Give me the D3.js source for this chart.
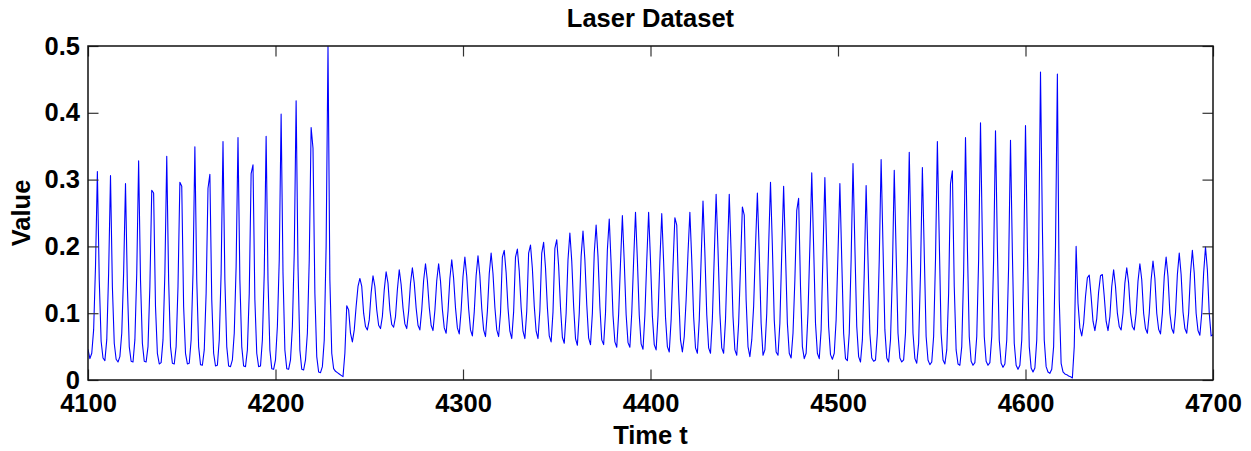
<!DOCTYPE html>
<html>
<head>
<meta charset="utf-8">
<script src="https://cdn.jsdelivr.net/npm/d3@7"></script>
<style>
  html, body { margin: 0; padding: 0; background: #fff; }
  svg { display: block; }
  text { font-family: "Liberation Sans", Arial, Helvetica, sans-serif; font-weight: bold; fill: #000; }
</style>
</head>
<body>
<svg id="chart" width="1251" height="451"></svg>
<script>
// ---- data (one value per time step, t = 4100 ... 4700) ----
const tStart = 4100;
const vals4100 = [
  .046,.032,.04,.075,.17,.312,.15,.058,.033,.029,
  .06,.16,.306,.14,.055,.031,.027,.035,.07,.16,
  .294,.14,.05,.028,.027,.06,.16,.328,.15,.055,
  .028,.027,.05,.14,.284,.28,.11,.04,.024,.026,
  .06,.16,.335,.15,.05,.025,.024,.05,.14,.296,
  .29,.11,.04,.024,.025,.06,.16,.349,.15,.05,
  .023,.022,.045,.13,.287,.308,.12,.04,.021,.022,
  .06,.16,.357,.15,.05,.021,.02,.03,.07,.17,
  .363,.15,.05,.021,.02,.045,.13,.309,.322,.12,
  .04,.02,.021,.06,.16,.365,.15,.045,.017,.016
];
const vals4200 = [
  .03,.08,.18,.398,.16,.045,.017,.016,.03,.08,
  .19,.418,.17,.045,.016,.015,.03,.07,.18,.378,
  .347,.13,.035,.012,.011,.02,.06,.2,.499,.15,
  .04,.017,.013,.011,.009,.007,.005,.04,.111,.105,
  .07,.057,.075,.11,.14,.152,.14,.1,.08,.075,
  .09,.13,.156,.14,.105,.082,.077,.095,.135,.162,
  .145,.105,.083,.079,.095,.135,.165,.143,.108,.084,
  .077,.103,.145,.168,.145,.108,.082,.075,.105,.149,
  .174,.149,.109,.082,.074,.104,.149,.174,.148,.106,
  .078,.07,.103,.152,.18,.152,.108,.078,.069,.104
];
const vals4300 = [
  .155,.184,.155,.107,.075,.066,.102,.156,.186,.156,
  .107,.075,.065,.103,.159,.19,.159,.109,.075,.065,
  .1,.184,.194,.161,.108,.073,.062,.102,.184,.196,
  .163,.109,.073,.062,.103,.19,.202,.167,.111,.073,
  .062,.104,.19,.206,.168,.109,.066,.057,.102,.197,
  .21,.171,.109,.064,.055,.1,.18,.22,.178,.111,
  .062,.052,.1,.185,.223,.18,.113,.063,.053,.1,
  .19,.232,.185,.11,.06,.053,.1,.195,.241,.174,
  .097,.057,.049,.098,.175,.246,.177,.098,.056,.049,
  .1,.178,.251,.18,.097,.054,.046,.097,.178,.251
];
const vals4400 = [
  .179,.096,.053,.045,.096,.178,.249,.177,.094,.05,
  .042,.09,.17,.243,.232,.13,.06,.042,.065,.12,
  .19,.251,.18,.095,.048,.04,.09,.18,.268,.19,
  .098,.048,.04,.092,.185,.278,.195,.1,.048,.04,
  .09,.185,.278,.19,.095,.045,.037,.085,.17,.259,
  .247,.12,.05,.035,.06,.11,.2,.28,.19,.085,
  .037,.045,.1,.2,.296,.2,.09,.042,.037,.085,
  .19,.29,.19,.085,.04,.033,.07,.15,.254,.272,
  .14,.05,.032,.04,.1,.2,.31,.2,.085,.04,
  .032,.075,.19,.303,.19,.08,.038,.031,.04,.09
];
const vals4500 = [
  .19,.294,.18,.07,.032,.029,.07,.18,.324,.2,
  .08,.035,.027,.06,.16,.291,.18,.07,.033,.028,
  .03,.07,.18,.33,.2,.075,.033,.027,.06,.16,
  .314,.19,.07,.033,.027,.03,.07,.18,.341,.2,
  .07,.032,.025,.055,.16,.318,.19,.065,.03,.023,
  .027,.065,.18,.357,.21,.07,.03,.024,.045,.13,
  .294,.313,.14,.045,.024,.022,.05,.16,.363,.2,
  .065,.028,.022,.026,.065,.18,.385,.21,.065,.028,
  .022,.026,.065,.18,.373,.2,.06,.025,.019,.024,
  .06,.17,.359,.19,.055,.022,.016,.022,.06,.17
];
const vals4600 = [
  .381,.2,.05,.018,.012,.018,.06,.19,.461,.23,
  .06,.02,.012,.01,.016,.05,.2,.458,.12,.025,
  .012,.009,.008,.006,.005,.003,.05,.2,.115,.078,
  .066,.085,.125,.153,.157,.125,.088,.074,.092,.132,
  .156,.158,.125,.088,.074,.095,.14,.165,.14,.1,
  .08,.075,.1,.145,.168,.145,.1,.08,.075,.1,
  .148,.174,.15,.1,.077,.07,.1,.15,.178,.152,
  .1,.076,.069,.1,.155,.184,.155,.1,.077,.07,
  .1,.158,.19,.158,.102,.077,.07,.1,.16,.194,
  .16,.1,.074,.067,.1,.16,.199,.165,.1,.066,
  .068
];
const xTicks = [4100, 4200, 4300, 4400, 4500, 4600, 4700];
const xTickLabels = ["4100", "4200", "4300", "4400", "4500", "4600", "4700"];
const yTicks = [0, 0.1, 0.2, 0.3, 0.4, 0.5];
const yTickLabels = ["0", "0.1", "0.2", "0.3", "0.4", "0.5"];
const titleText = "Laser Dataset";
const xLabelText = "Time t";
const yLabelText = "Value";

// ---- build ----
const values = [].concat(vals4100, vals4200, vals4300, vals4400, vals4500, vals4600);
const data = values.map((v, i) => ({ t: tStart + i, v: v }));

const svg = d3.select("#chart");
const L = 88, R = 1213, T = 46, B = 380;
const x = d3.scaleLinear().domain([4100, 4700]).range([L, R]);
const y = d3.scaleLinear().domain([0, 0.5]).range([B, T]);
const fs = 25.5;
const tickLen = 10.5;

// data line
svg.append("clipPath").attr("id", "pc").append("rect")
  .attr("x", L).attr("y", T - 1).attr("width", R - L).attr("height", B - T + 2);
svg.append("path")
  .datum(data)
  .attr("clip-path", "url(#pc)")
  .attr("fill", "none")
  .attr("stroke", "#0000ff")
  .attr("stroke-width", 1.1)
  .attr("stroke-linejoin", "round")
  .attr("d", d3.line().x(d => x(d.t)).y(d => y(d.v)));

function styleAxis(g) {
  g.select(".domain").remove();
  g.selectAll(".tick line").attr("stroke", "#333").attr("stroke-width", 1.2);
  g.selectAll(".tick text").attr("font-size", fs).attr("font-weight", "bold")
    .attr("font-family", '"Liberation Sans", Arial, Helvetica, sans-serif').attr("fill", "#000");
}

// bottom axis with labels
svg.append("g").attr("transform", `translate(0,${B})`)
  .call(d3.axisBottom(x).tickValues(xTicks).tickFormat((d, i) => xTickLabels[i])
    .tickSizeInner(-tickLen).tickSizeOuter(0).tickPadding(14))
  .call(styleAxis);
// top axis, ticks only
svg.append("g").attr("transform", `translate(0,${T})`)
  .call(d3.axisTop(x).tickValues(xTicks).tickFormat("")
    .tickSizeInner(-tickLen).tickSizeOuter(0))
  .call(styleAxis);
// left axis with labels
svg.append("g").attr("transform", `translate(${L},0)`)
  .call(d3.axisLeft(y).tickValues(yTicks).tickFormat((d, i) => yTickLabels[i])
    .tickSizeInner(-tickLen).tickSizeOuter(0).tickPadding(8))
  .call(styleAxis);
// right axis, ticks only
svg.append("g").attr("transform", `translate(${R},0)`)
  .call(d3.axisRight(y).tickValues(yTicks).tickFormat("")
    .tickSizeInner(-tickLen).tickSizeOuter(0))
  .call(styleAxis);

// box
svg.append("rect")
  .attr("x", L).attr("y", T).attr("width", R - L).attr("height", B - T)
  .attr("fill", "none").attr("stroke", "#111").attr("stroke-width", 1.5);

// title and labels
svg.append("text").attr("x", (L + R) / 2).attr("y", 27)
  .attr("text-anchor", "middle").attr("font-size", fs).text(titleText);
svg.append("text").attr("x", (L + R) / 2).attr("y", 444)
  .attr("text-anchor", "middle").attr("font-size", fs).text(xLabelText);
svg.append("text")
  .attr("transform", `translate(30,${(T + B) / 2}) rotate(-90)`)
  .attr("text-anchor", "middle").attr("font-size", fs).text(yLabelText);
</script>
</body>
</html>
